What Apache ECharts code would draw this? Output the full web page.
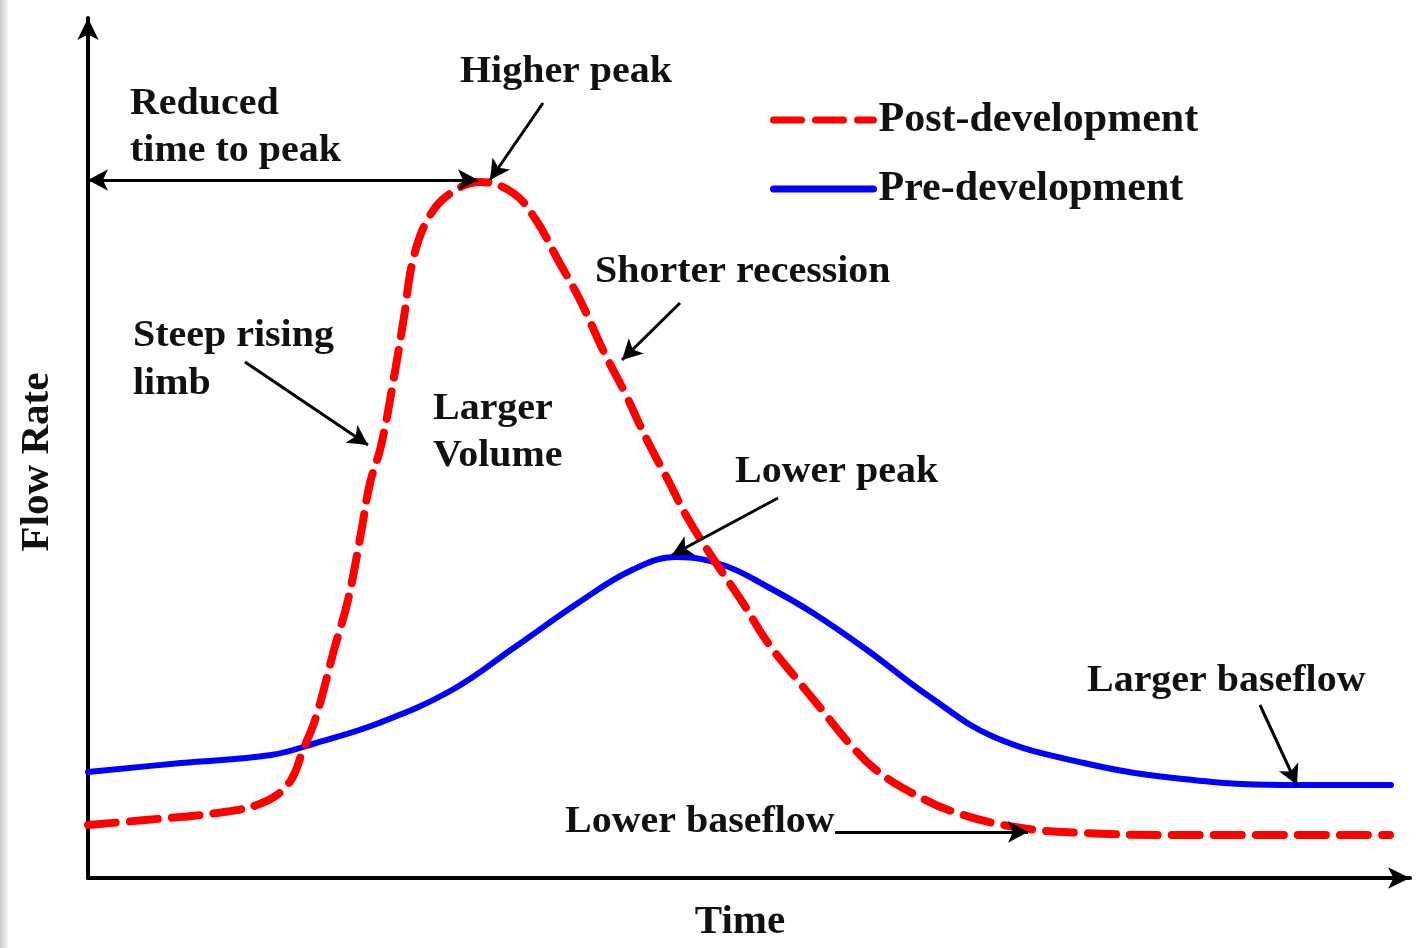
<!DOCTYPE html>
<html>
<head>
<meta charset="utf-8">
<script src="https://cdn.jsdelivr.net/npm/echarts@6/dist/echarts.min.js"></script>
<style>
  html, body { margin: 0; padding: 0; background: #fff; }
  #chart { width: 1416px; height: 948px; }
</style>
</head>
<body>
<div id="chart"></div>
<script>
// hydrograph, arbitrary units: time 0..1322, flow 0..860
var postTime = [0, 57, 129, 174, 201, 215, 228, 246, 260, 273, 282, 293, 305, 316, 325, 341, 363, 392, 425, 448, 470, 492, 515, 537, 559, 580, 599, 626, 653, 680, 707, 734, 761, 788, 824, 869, 933, 996, 1086, 1302]
var postFlow = [53, 58, 65, 75, 95, 128, 161, 228, 278, 345, 395, 432, 495, 561, 618, 661, 685, 696, 685, 658, 618, 578, 528, 485, 438, 398, 361, 318, 278, 235, 201, 168, 135, 108, 85, 65, 50, 45, 43, 43]

var preTime = [0, 93, 183, 228, 291, 364, 427, 490, 544, 589, 635, 680, 725, 779, 842, 906, 996, 1086, 1195, 1303]
var preFlow = [106, 115, 123, 135, 155, 188, 231, 275, 308, 321, 313, 291, 265, 228, 181, 141, 115, 100, 93, 93]

// annotation arrows [fromTime, fromFlow, toTime, toFlow]
var arrows = [
  [455, 775, 402, 698],   // higher peak
  [592, 575, 534, 518],   // shorter recession
  [157, 516, 280, 433],   // steep rising limb
  [690, 380, 584, 323],   // lower peak
  [1172, 173, 1209, 93],  // larger baseflow
  [747, 46, 940, 46]      // lower baseflow
]
var timeToPeak = [0, 698, 390, 698]

var FONT = "'Liberation Serif', 'Times New Roman', serif"

var postData = postTime.map(function(t, i) { return [t, postFlow[i]] })
var preData = preTime.map(function(t, i) { return [t, preFlow[i]] })

var arrowLines = arrows.map(function(a) {
  return [{ coord: [a[0], a[1]], symbol: 'none' }, { coord: [a[2], a[3]], symbol: 'arrow' }]
})
arrowLines.push([
  { coord: [timeToPeak[0], timeToPeak[1]], symbol: 'arrow' },
  { coord: [timeToPeak[2], timeToPeak[3]], symbol: 'arrow' }
])

// the source lettering is a little wider than Liberation Serif
function label(text, x, y) {
  return {
    type: 'text',
    x: x,
    y: y,
    scaleX: 1.08,
    style: {
      text: text,
      font: 'bold 37px ' + FONT,
      fill: '#111',
      verticalAlign: 'middle'
    }
  }
}

var chart = echarts.init(document.getElementById('chart'))

chart.setOption({
  animation: false,
  backgroundColor: '#fff',
  grid: { left: 88, right: 6, top: 18, bottom: 70 },
  legend: {
    orient: 'vertical',
    left: 770,
    top: 99,
    padding: 0,
    itemWidth: 100,
    itemHeight: 14,
    itemGap: 27,
    itemStyle: { opacity: 0 },
    lineStyle: { width: 7 },
    textStyle: {
      fontFamily: FONT,
      fontWeight: 'bold',
      fontSize: 42,
      lineHeight: 42,
      color: '#111'
    },
    data: ['Post-development', 'Pre-development']
  },
  xAxis: {
    type: 'value',
    min: 0,
    max: 1322,
    name: 'Time',
    nameLocation: 'middle',
    nameGap: 24,
    nameTextStyle: { fontFamily: FONT, fontWeight: 'bold', fontSize: 41, color: '#111', padding: [0, 18, 0, 0] },
    axisLine: {
      show: true,
      symbol: ['none', 'arrow'],
      symbolSize: [16, 22],
      lineStyle: { color: '#000', width: 4 }
    },
    axisTick: { show: false },
    axisLabel: { show: false },
    splitLine: { show: false }
  },
  yAxis: {
    type: 'value',
    min: 0,
    max: 860,
    name: 'Flow Rate',
    nameLocation: 'middle',
    nameRotate: 90,
    nameGap: 30,
    nameTextStyle: { fontFamily: FONT, fontWeight: 'bold', fontSize: 41, color: '#111', padding: [0, 28, 0, 0] },
    axisLine: {
      show: true,
      symbol: ['none', 'arrow'],
      symbolSize: [16, 22],
      lineStyle: { color: '#000', width: 4 }
    },
    axisTick: { show: false },
    axisLabel: { show: false },
    splitLine: { show: false }
  },
  series: [{
    name: 'Post-development',
    type: 'line',
    smooth: 0.4,
    symbol: 'none',
    lineStyle: { color: '#ff0000', width: 8, type: [28, 14], cap: 'round' },
    itemStyle: { color: '#ff0000' },
    data: postData,
    z: 3
  }, {
    name: 'Pre-development',
    type: 'line',
    smooth: 0.4,
    symbol: 'none',
    lineStyle: { color: '#0000ff', width: 6, cap: 'round' },
    itemStyle: { color: '#0000ff' },
    data: preData,
    z: 2,
    markLine: {
      silent: true,
      symbolSize: [16, 20],
      label: { show: false },
      lineStyle: { color: '#000', width: 3, type: 'solid' },
      emphasis: { disabled: true },
      data: arrowLines
    }
  }],
  graphic: [
    {
      type: 'rect',
      shape: { x: 0, y: 0, width: 9, height: 948 },
      style: {
        fill: new echarts.graphic.LinearGradient(0, 0, 1, 0, [
          { offset: 0, color: '#c8c8c8' },
          { offset: 1, color: '#ffffff' }
        ])
      },
      silent: true
    },
    label('Reduced', 130, 104),
    label('time to peak', 130, 151),
    label('Higher peak', 460, 72),
    label('Steep rising', 133, 336),
    label('limb', 133, 384),
    label('Larger', 433, 409),
    label('Volume', 433, 456),
    label('Shorter recession', 595, 272),
    label('Lower peak', 735, 472),
    label('Larger baseflow', 1087, 681),
    label('Lower baseflow', 565, 822)
  ]
})
</script>
</body>
</html>
